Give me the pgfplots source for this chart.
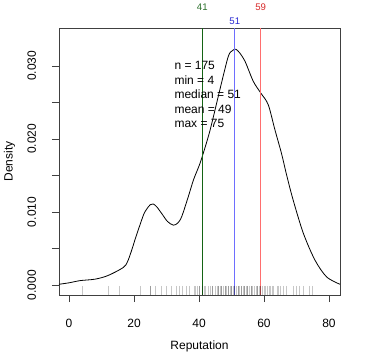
\documentclass[border=0pt]{standalone}
\usepackage{pgfplots}
\pgfplotsset{compat=1.18}
\usepackage{fontspec}
\setmainfont{Liberation Sans}
\definecolor{lgreen}{RGB}{20,100,20}
\definecolor{lblue}{RGB}{110,110,255}
\definecolor{lred}{RGB}{255,110,110}
\definecolor{tgreen}{RGB}{40,110,40}
\definecolor{tblue}{RGB}{40,40,210}
\definecolor{tred}{RGB}{215,40,40}
\begin{document}
\fontsize{12bp}{14.4bp}\selectfont
\begin{tikzpicture}
\useasboundingbox (-59bp,-68bp) rectangle (308bp,295bp);
\begin{axis}[
  at={(0,0)}, anchor=south west,
  width=281bp, height=267bp, scale only axis,
  xmin=-3.1, xmax=83.4, ymin=-0.00137, ymax=0.0352,
  clip=false,
  axis line style={black!75, line width=0.8bp},
  tick align=outside, tick pos=left,
  major tick length=7bp,
  tick style={black!75, line width=0.8bp},
  xtick={0,20,40,60,80},
  ytick={0,0.005,0.01,0.015,0.02,0.025,0.03},
  yticklabels={0.000,,0.010,,0.020,,0.030},
  xticklabel style={anchor=north, inner sep=0pt, yshift=-17bp},
  yticklabel style={xshift=-15.7bp, rotate=90, anchor=south, inner sep=0pt},
  /pgf/number format/assume math mode=true,
  scaled y ticks=false,
]
% rug
\addplot[only marks, mark=|, mark size=4.5bp, mark options={black, opacity=0.22, line width=0.6bp}] coordinates {
(4,-0.00075) (12,-0.00075) (15.5,-0.00075) (22,-0.00075) (25,-0.00075) (25,-0.00075)
(26.5,-0.00075) (28.5,-0.00075) (30,-0.00075) (31.5,-0.00075) (33,-0.00075) (34,-0.00075)
(35,-0.00075) (36,-0.00075) (37,-0.00075) (38.5,-0.00075) (39,-0.00075) (39.5,-0.00075)
(40,-0.00075) (40,-0.00075) (41,-0.00075) (41.5,-0.00075) (42,-0.00075) (43,-0.00075)
(43.5,-0.00075) (44,-0.00075) (44,-0.00075) (45,-0.00075) (45.5,-0.00075) (46,-0.00075)
(46,-0.00075) (46.5,-0.00075) (47,-0.00075) (47,-0.00075) (47.5,-0.00075) (48,-0.00075)
(48,-0.00075) (48.5,-0.00075) (49,-0.00075) (49,-0.00075) (49.5,-0.00075) (50,-0.00075)
(50,-0.00075) (50.5,-0.00075) (51,-0.00075) (51,-0.00075) (51.5,-0.00075) (52,-0.00075)
(52,-0.00075) (52.5,-0.00075) (53,-0.00075) (53,-0.00075) (53.5,-0.00075) (54,-0.00075)
(54,-0.00075) (54.5,-0.00075) (55,-0.00075) (55,-0.00075) (55.5,-0.00075) (56,-0.00075)
(56,-0.00075) (56.5,-0.00075) (57,-0.00075) (57.5,-0.00075) (58,-0.00075) (58,-0.00075)
(58.5,-0.00075) (59,-0.00075) (59,-0.00075) (59.5,-0.00075) (60,-0.00075) (60.5,-0.00075)
(61,-0.00075) (61.5,-0.00075) (62,-0.00075) (62.5,-0.00075) (63,-0.00075) (64,-0.00075)
(64.5,-0.00075) (65,-0.00075) (66,-0.00075) (67,-0.00075) (69,-0.00075) (70,-0.00075)
(71,-0.00075) (72,-0.00075) (74,-0.00075) (75,-0.00075)
};
% density curve
\addplot[black, line width=0.8bp, smooth, tension=0.5] coordinates {
(-3.1,0.0001) (0,0.0003) (3.4,0.0006) (8,0.0008) (12,0.0013) (16.7,0.0024)
(18,0.0032) (19.3,0.0048) (20.5,0.0065) (21.8,0.0082) (23,0.0097) (23.9,0.0104)
(25,0.0110) (25.9,0.0111) (27,0.0107) (28.5,0.0098) (30.3,0.0087) (32.1,0.0082)
(33.5,0.0085) (34.7,0.0094) (36.7,0.0121) (38.3,0.0144) (40,0.0163) (41,0.0176)
(43.4,0.0212) (46.5,0.0269) (49,0.0313) (50.3,0.0321) (51.3,0.0323) (52.5,0.0318)
(54.2,0.0306) (56.7,0.0279) (59,0.0263) (61.3,0.0247) (63.4,0.0212) (65.4,0.0180)
(67,0.0150) (69,0.0116) (72.1,0.0071) (75.7,0.0034) (79.3,0.0011) (83.4,0.0001)
};
% reference lines
\addplot[lgreen, line width=0.8bp] coordinates {(41,-0.00137) (41,0.0352)};
\addplot[lblue, line width=0.8bp] coordinates {(51,-0.00137) (51,0.0352)};
\addplot[lred, line width=0.8bp] coordinates {(59,-0.00137) (59,0.0352)};
% top labels
\node[anchor=base, text=tgreen, font=\fontsize{9.6bp}{11bp}\selectfont] at (axis cs:41,0.03758) {41};
\node[anchor=base, text=tblue, font=\fontsize{9.6bp}{11bp}\selectfont] at (axis cs:51,0.03562) {51};
\node[anchor=base, text=tred, font=\fontsize{9.6bp}{11bp}\selectfont] at (axis cs:59,0.03758) {59};
% stats text
\node[anchor=base west, inner sep=0pt] at (axis cs:32.4,0.02945) {n = 175};
\node[anchor=base west, inner sep=0pt] at (axis cs:32.4,0.02748) {min = 4};
\node[anchor=base west, inner sep=0pt] at (axis cs:32.4,0.02551) {median = 51};
\node[anchor=base west, inner sep=0pt] at (axis cs:32.4,0.02353) {mean = 49};
\node[anchor=base west, inner sep=0pt] at (axis cs:32.4,0.02156) {max = 75};
% axis labels
\node[anchor=base, inner sep=0pt] at ([yshift=-54bp]rel axis cs:0.5,0) {Reputation};
\node[anchor=base, inner sep=0pt, rotate=90] at ([xshift=-46.3bp]rel axis cs:0,0.5) {Density};
\end{axis}
\end{tikzpicture}
\end{document}
